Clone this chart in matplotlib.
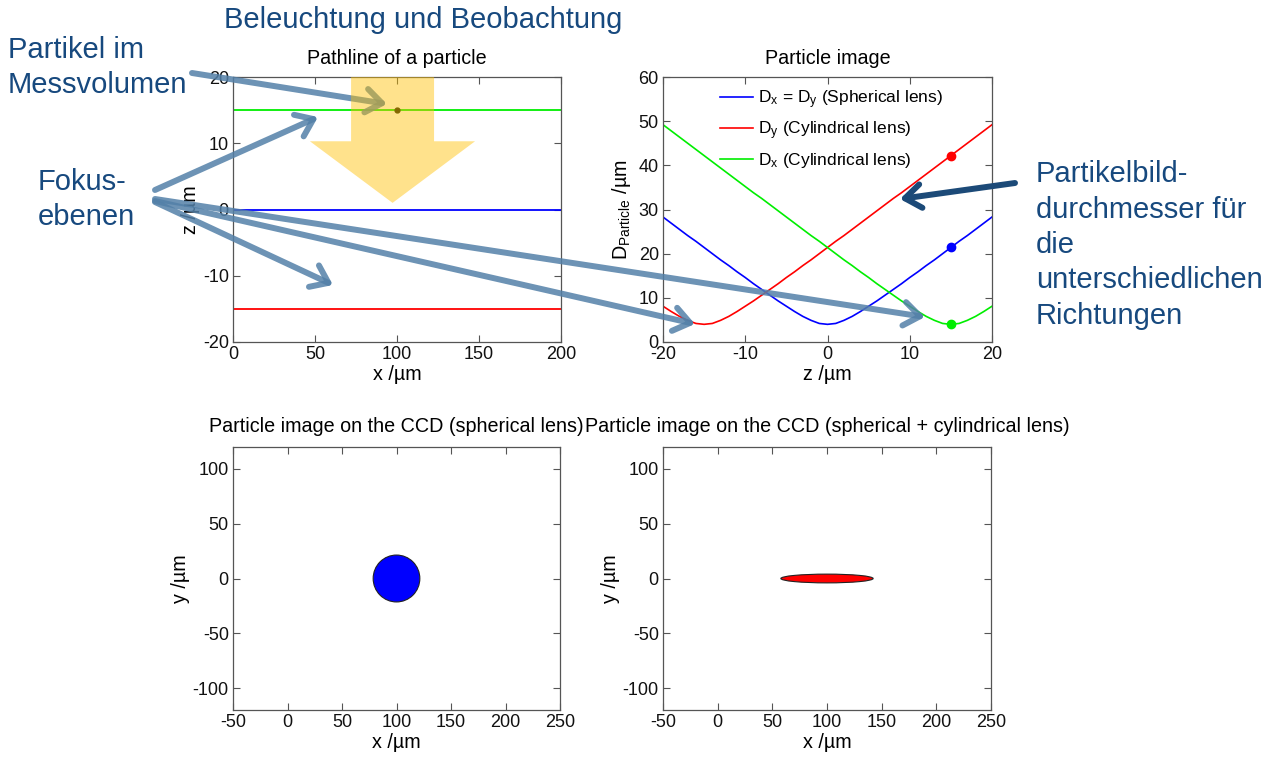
import matplotlib
matplotlib.use("Agg")
import matplotlib.pyplot as plt
from matplotlib.patches import Polygon, Ellipse, FancyArrowPatch, ArrowStyle

# ---------------- data ----------------
z_values = list(range(-20, 21))
d_spherical = [28.3, 26.9, 25.5, 24.1, 22.8, 21.4, 20.0, 18.6, 17.3, 15.9, 14.6, 13.2, 11.9, 10.6,
               9.3, 8.1, 6.9, 5.8, 4.9, 4.2, 4.0, 4.2, 4.9, 5.8, 6.9, 8.1, 9.3, 10.6, 11.9, 13.2,
               14.6, 15.9, 17.3, 18.6, 20.0, 21.4, 22.8, 24.1, 25.5, 26.9, 28.3]
d_y_cyl = [8.1, 6.9, 5.8, 4.9, 4.2, 4.0, 4.2, 4.9, 5.8, 6.9, 8.1, 9.3, 10.6, 11.9, 13.2, 14.6,
           15.9, 17.3, 18.6, 20.0, 21.4, 22.8, 24.1, 25.5, 26.9, 28.3, 29.7, 31.1, 32.5, 33.8,
           35.2, 36.6, 38.0, 39.4, 40.8, 42.2, 43.6, 45.0, 46.4, 47.8, 49.2]
d_x_cyl = [49.2, 47.8, 46.4, 45.0, 43.6, 42.2, 40.8, 39.4, 38.0, 36.6, 35.2, 33.8, 32.5, 31.1,
           29.7, 28.3, 26.9, 25.5, 24.1, 22.8, 21.4, 20.0, 18.6, 17.3, 15.9, 14.6, 13.2, 11.9,
           10.6, 9.3, 8.1, 6.9, 5.8, 4.9, 4.2, 4.0, 4.2, 4.9, 5.8, 6.9, 8.1]
legend_labels = [r'D$_\mathrm{x}$ = D$_\mathrm{y}$ (Spherical lens)',
                 r'D$_\mathrm{y}$ (Cylindrical lens)',
                 r'D$_\mathrm{x}$ (Cylindrical lens)']

focal_planes_z = [15, 0, -15]          # green, blue, red
pathline_x = [0, 200]
particle_x = 100
particle_z = 15
marker_d = [21.4, 42.2, 4.0]           # spherical, D_y cyl, D_x cyl at particle_z

ccd_center = (100, 0)
spherical_semi = (21.4, 21.4)
cyl_semi = (42.2, 4.0)

titles = ['Pathline of a particle', 'Particle image',
          'Particle image on the CCD (spherical lens)',
          'Particle image on the CCD (spherical + cylindrical lens)']

# ---------------- style ----------------
plt.rcParams['font.family'] = ['Liberation Sans', 'DejaVu Sans']
plt.rcParams['mathtext.fontset'] = 'custom'
plt.rcParams['mathtext.rm'] = 'Liberation Sans'
plt.rcParams['mathtext.it'] = 'Liberation Sans:italic'
plt.rcParams['axes.linewidth'] = 0.9
plt.rcParams['axes.edgecolor'] = '#555555'
plt.rcParams['axes.unicode_minus'] = False

W, H = 1268, 758
fig = plt.figure(figsize=(W / 100, H / 100), dpi=100)

def px_axes(l, r, t, b):
    return fig.add_axes([l / W, 1 - b / H, (r - l) / W, (b - t) / H])

def style(ax):
    ax.tick_params(direction='in', top=True, right=True, length=5, width=0.8,
                   labelsize=13, color='#555555', labelcolor='#111111', pad=3)

TS = 14.2
ax1 = px_axes(233, 561, 77, 342)
ax2 = px_axes(663, 992, 77, 342)
ax3 = px_axes(233, 560, 447, 710)
ax4 = px_axes(663, 991, 447, 710)
for a in (ax1, ax2, ax3, ax4):
    style(a)

# top-left: pathline
for zf, c in zip(focal_planes_z, ['#00ee00', '#0000ff', '#ff0000']):
    ax1.plot(pathline_x, [zf, zf], color=c, lw=1.3)
ax1.plot([particle_x], [particle_z], 'o', color='#202000', ms=3.5)
ax1.set_xlim(0, 200)
ax1.set_ylim(-20, 20)
ax1.set_xticks([0, 50, 100, 150, 200])
ax1.set_yticks([-20, -10, 0, 10, 20])
ax1.set_title(titles[0], fontsize=TS, pad=9.5)
ax1.set_xlabel('x /µm', fontsize=TS, labelpad=1)
ax1.set_ylabel('z /µm', fontsize=TS, labelpad=2)

# top-right: particle image diameter
cols = ['#0000ff', '#ff0000', '#00ee00']
for d, c, lab in zip([d_spherical, d_y_cyl, d_x_cyl], cols, legend_labels):
    ax2.plot(z_values, d, color=c, lw=1.2, label=lab)
for d, c in zip(marker_d, cols):
    ax2.plot([particle_z], [d], 'o', color=c, ms=6)
ax2.set_xlim(-20, 20)
ax2.set_ylim(0, 60)
ax2.set_xticks([-20, -10, 0, 10, 20])
ax2.set_yticks([0, 10, 20, 30, 40, 50, 60])
ax2.set_title(titles[1], fontsize=TS, pad=9.5)
ax2.set_xlabel('z /µm', fontsize=TS, labelpad=1)
ax2.set_ylabel(r'D$_\mathrm{Particle}$ /µm', fontsize=TS, labelpad=4)
ax2.legend(loc='upper left', bbox_to_anchor=(0.155, 0.98), frameon=False, fontsize=12.5,
           handlelength=1.9, handletextpad=0.3, labelspacing=0.5, borderpad=0.35,
           borderaxespad=0)

# bottom: CCD images
for ax, semi, fc, t in [(ax3, spherical_semi, '#0000ff', titles[2]),
                        (ax4, cyl_semi, '#ff0000', titles[3])]:
    ax.add_patch(Ellipse(ccd_center, 2 * semi[0], 2 * semi[1], facecolor=fc,
                         edgecolor='#222222', lw=0.8))
    ax.set_xlim(-50, 250)
    ax.set_ylim(-120, 120)
    ax.set_xticks([-50, 0, 50, 100, 150, 200, 250])
    ax.set_yticks([-100, -50, 0, 50, 100])
    ax.set_title(t, fontsize=TS, pad=11)
    ax.set_xlabel('x /µm', fontsize=TS, labelpad=1)
    ax.set_ylabel('y /µm', fontsize=TS, labelpad=2)

# ---------------- overlay annotations (pixel space) ----------------
ov = fig.add_axes([0, 0, 1, 1], zorder=10)
ov.set_xlim(0, W)
ov.set_ylim(H, 0)
ov.set_axis_off()
ov.patch.set_alpha(0)

tc = '#17497e'
BIG = 21
ov.text(423, 20, 'Beleuchtung und Beobachtung', fontsize=BIG, color=tc, ha='center', va='center')
ov.text(8, 50, 'Partikel im', fontsize=BIG, color=tc, ha='left', va='center')
ov.text(8, 85, 'Messvolumen', fontsize=BIG, color=tc, ha='left', va='center')
ov.text(38, 182, 'Fokus-', fontsize=BIG, color=tc, ha='left', va='center')
ov.text(38, 217, 'ebenen', fontsize=BIG, color=tc, ha='left', va='center')
for i, line in enumerate(['Partikelbild-', 'durchmesser für', 'die',
                          'unterschiedlichen', 'Richtungen']):
    ov.text(1036, 174 + 35.5 * i, line, fontsize=BIG, color=tc, ha='left', va='center')

steel = '#5380a8'
style_arrow = ArrowStyle('->', head_length=11.5, head_width=8.5)
arrows = [((192, 73), (387, 104)),
          ((155, 190), (318, 117)),
          ((155, 202), (333, 285)),
          ((155, 201), (695, 324)),
          ((155, 199), (925, 317))]
for a, b in arrows:
    ov.add_patch(FancyArrowPatch(a, b, arrowstyle=style_arrow, mutation_scale=1,
                                 color=steel, alpha=0.85, lw=4.3, shrinkA=0, shrinkB=0,
                                 capstyle='round', joinstyle='round'))
ov.add_patch(FancyArrowPatch((1015, 183), (900, 199), arrowstyle=style_arrow, mutation_scale=1,
                             color='#1c4a78', lw=4.3, shrinkA=0, shrinkB=0,
                             capstyle='round', joinstyle='round'))

# illumination arrow (in pathline data coordinates)
illum = [(72, 20), (122.6, 20), (122.6, 10.3), (147.6, 10.3), (97.3, 1.0),
         (46.9, 10.3), (72, 10.3)]
ov.add_patch(Polygon(illum, closed=True, facecolor='#ffc000', edgecolor='none', alpha=0.45,
                     transform=ax1.transData))

fig.savefig('out.png', dpi=100)
